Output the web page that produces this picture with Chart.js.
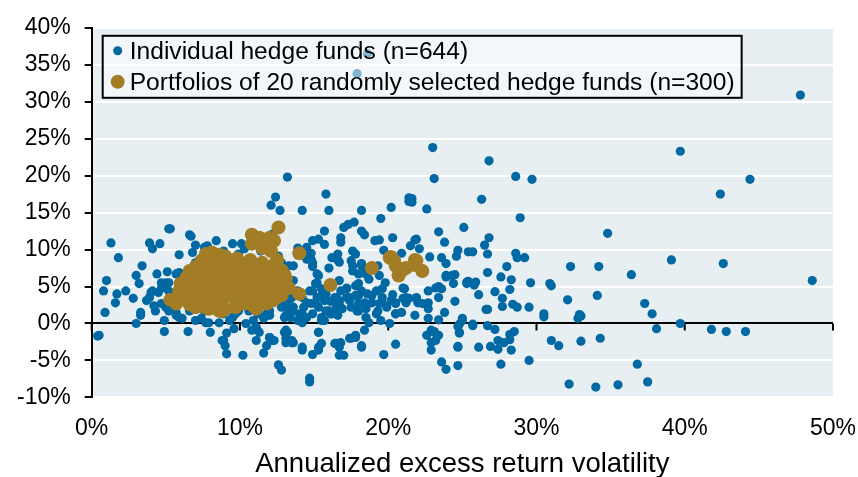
<!DOCTYPE html>
<html>
<head>
<meta charset="utf-8">
<title>Hedge fund volatility vs return</title>
<script src="https://cdn.jsdelivr.net/npm/chart.js@4.4.0/dist/chart.umd.min.js"></script>
<style>
  body { margin: 0; background: #fff; }
</style>
</head>
<body>
<canvas id="myChart" width="858" height="477"></canvas>
<script>
// axis setup
var xTicks = [0, 10, 20, 30, 40, 50];
var yMin = -10, yMax = 40, yStep = 5;
var xTitle = "Annualized excess return volatility";
var legendLabels = ["Individual hedge funds (n=644)", "Portfolios of 20 randomly selected hedge funds (n=300)"];

// [volatility %, excess return %]
var fundPoints = [
  [47.8,30.9],[48.6,5.8],[39.7,23.3],[44.4,19.5],[42.4,17.5],[23.0,23.8],[26.8,22.0],[28.6,19.9],[29.7,19.5],[23.1,19.6],
  [26.3,16.8],[28.9,14.3],[34.8,12.2],[23.4,12.4],[25.1,13.0],[26.8,11.6],[22.6,15.5],[17.9,33.8],[18.6,36.5],
  [21.6,16.9],[21.6,16.4],[21.8,11.3],[23.8,11.0],[21.5,10.5],[22.1,10.1],[26.5,10.6],[24.7,9.9],[25.4,9.7],[25.7,9.7],
  [26.7,9.4],[24.6,9.1],[23.6,8.9],[22.8,9.0],[23.9,8.1],[28.6,9.5],[28.7,8.9],[29.2,8.9],[39.1,8.6],[42.6,8.1],
  [32.3,7.7],[34.2,7.7],[36.4,6.6],[28.0,7.7],[26.7,6.9],[27.6,6.3],[23.9,6.5],[24.5,6.6],[24.4,5.4],[25.3,5.6],
  [25.9,5.6],[25.8,5.2],[28.3,5.9],[29.6,5.5],[30.9,5.4],[31.0,5.1],[23.4,5.0],[23.6,4.7],[22.7,4.4],[26.1,3.9],
  [27.2,4.3],[28.2,4.6],[27.7,3.4],[23.4,3.5],[32.1,3.2],[34.1,3.8],[37.3,2.7],[24.5,3.0],[26.7,1.9],[27.7,2.3],
  [28.4,2.6],[28.7,2.2],[29.5,2.2],[23.8,1.5],[37.8,1.3],[30.5,1.3],[30.5,0.9],[32.8,0.7],[33.0,1.0],[25.0,0.4],
  [39.7,0.0],[23.4,0.5],[23.1,-1.1],[23.4,-1.6],[24.7,-0.4],[24.8,-1.3],[25.7,-0.1],[26.7,-0.3],[27.2,-0.8],[28.2,-1.5],
  [28.5,-1.1],[38.1,-0.7],[41.8,-0.8],[42.8,-1.1],[44.1,-1.1],[31.0,-2.3],[31.5,-3.0],[33.0,-2.4],[34.3,-2.0],[22.9,-3.6],
  [24.7,-3.1],[26.1,-3.2],[27.4,-3.5],[27.4,-2.3],[27.8,-2.6],[28.2,-2.2],[28.3,-3.6],[29.5,-5.0],[23.6,-5.2],[23.9,-6.2],
  [24.7,-5.7],[27.6,-5.5],[36.8,-5.5],[32.2,-8.2],[34.0,-8.6],[35.5,-8.3],[37.5,-7.9],
  [21.9,3.4],[21.4,3.4],[22.3,2.7],[22.7,2.8],[22.7,2.0],[22.7,0.7],[21.8,1.1],[22.9,-2.6],[26.9,-3.1],[23.2,4.8],
  [23.9,6.3],[24.3,6.5],[25.4,5.7],[32.9,1.2],[26.6,1.9],
  [13.2,19.8],[12.4,17.1],[12.1,16.0],[12.7,15.3],[14.2,15.3],[15.8,17.5],[16.0,15.3],[18.2,15.3],[20.2,15.7],[21.4,17.0],
  [21.4,16.5],[19.5,14.2],[17.7,13.7],[17.3,13.4],[17.0,13.0],[15.7,12.5],[18.2,12.5],[18.4,12.0],[16.8,11.6],[16.8,11.0],
  [19.1,11.2],[19.4,11.3],[20.3,11.6],[15.3,11.4],[14.9,11.2],[15.7,10.7],[14.5,10.3],[13.9,10.2],[12.2,12.1],[19.7,9.9],
  [20.9,9.5],[16.6,9.4],[17.8,9.4],[14.8,9.5],[21.9,11.4],
  [16.0,7.5],[14.9,7.7],[15.3,6.5],[16.7,8.3],[17.6,7.1],[18.0,6.7],[18.5,6.9],[19.3,7.8],[21.1,4.7],[21.2,2.8],
  [20.5,1.3],[20.1,0.0],[19.3,1.7],[19.6,2.8],[18.9,3.8],[18.5,2.0],[17.8,5.1],[17.2,4.7],[17.4,3.1],[16.9,2.0],
  [16.6,1.1],[16.0,1.7],[16.1,1.3],[15.7,0.4],[15.1,2.7],[15.5,3.8],[14.9,4.4],[14.5,2.8],[14.2,1.3],[14.5,0.8],
  [13.9,0.4],[13.5,1.7],[13.1,1.1],[13.3,2.7],[12.8,2.2],[12.0,1.1],[11.6,0.7],[11.2,1.3],[10.9,0.4],[11.1,-0.5],
  [11.1,-2.3],[11.6,-4.0],[12.0,-1.9],[12.3,-2.3],[13.1,-0.9],[13.1,-2.0],[13.5,-2.6],[14.2,-3.6],[14.9,-4.2],[15.3,-3.6],
  [15.5,-2.7],[15.3,-1.2],[16.4,-2.7],[16.7,-4.3],[17.0,-4.3],[16.8,-2.6],[17.4,-2.0],[17.8,-1.6],[18.2,-3.0],[18.4,-0.9],
  [19.7,-4.2],[20.5,-2.8],[12.6,-5.6],[12.8,-6.3],[14.7,-7.4],[14.7,-7.9],[18.2,8.1],[17.5,8.5],[13.6,7.8],[14.8,8.7],
  [15.2,6.7],[15.8,4.0],[16.5,3.5],[16.7,2.8],[17.2,3.5],[18.0,3.8],[18.4,2.8],[19.6,4.7],[20.2,3.1],[20.5,2.7],
  [20.9,1.5],[14.2,0.1],[15.5,0.4],[15.2,5.5],[16.1,3.0],[12.8,8.2],
  [17.6,9.8],[16.2,8.9],[16.6,8.6],[14.7,9.4],[14.5,8.7],[14.9,8.2],[17.6,7.8],[18.2,7.8],[18.5,6.7],[18.7,6.0],
  [19.4,6.5],[19.8,5.5],[25.3,5.4],[24.8,-0.1],[25.0,0.7],[21.0,4.8],[21.0,3.4],[21.2,3.5],[21.9,3.5],[22.0,2.8],
  [20.3,3.9],[20.5,2.8],[19.6,3.5],[19.9,2.2],[19.2,4.4],[19.4,2.7],[18.6,4.0],[18.9,2.8],[18.0,5.4],[18.2,4.4],
  [17.8,3.8],[18.0,2.7],[17.9,1.7],[17.2,4.8],[17.4,3.5],[17.5,2.2],[16.7,5.8],[16.8,4.4],[16.7,3.1],[16.2,5.1],
  [16.4,3.5],[16.5,2.2],[16.2,1.3],[15.5,4.7],[15.7,3.1],[15.8,1.7],[15.1,5.4],[15.2,3.5],[15.3,2.2],[15.5,0.8],
  [14.7,4.4],[14.8,2.7],[14.9,1.3],[14.2,3.5],[14.3,2.2],[14.0,1.3],[13.5,3.5],[13.6,2.2],[13.4,0.8],[13.1,2.2],
  [13.0,0.8],[18.0,1.7],[18.5,0.8],[18.7,0.1],[19.2,1.3],[19.5,0.4],[20.5,1.3],[22.6,-1.6],[22.9,-0.9],[13.0,-1.2],
  [13.1,-2.6],[13.6,-2.6],[14.2,-3.2],[15.3,-1.2],[16.5,-2.7],[16.7,-3.2],[17.5,-2.0],[17.8,-1.9],[18.2,-3.2],[15.3,-3.2],
  [23.1,-1.2],[23.2,-2.3],[24.8,-1.2],[25.7,-0.3],[24.7,-3.2],
  [5.2,12.8],[1.3,10.9],[1.8,8.9],[3.9,10.9],[4.1,10.1],[4.6,10.8],[6.6,12.0],[7.0,10.6],[6.8,9.6],[5.9,9.3],
  [7.8,10.5],[9.5,10.8],[10.1,10.8],[9.9,9.4],[3.4,7.8],[3.0,6.5],[3.2,5.4],[1.0,5.8],[0.8,4.4],[1.7,4.0],
  [2.8,3.4],[4.4,6.7],[5.1,7.0],[5.7,6.7],[5.0,5.5],[4.1,4.4],[3.9,3.5],[4.7,4.8],[0.5,-1.6],[0.4,-1.7],
  [0.9,1.5],[3.0,0.0],[3.3,1.5],[3.3,1.1],[4.9,-1.1],[6.5,-1.1],[8.0,-1.2],[9.1,-4.1],[10.2,-4.3],[8.9,-2.3],
  [9.1,-1.3],[9.6,-0.7],[10.4,0.0],[4.9,0.4],[4.3,1.7],[4.2,2.4],[3.7,3.1],[5.7,1.5],[6.1,0.7],[6.6,1.7],
  [7.4,0.7],[7.9,0.1],[8.6,0.1],[9.3,0.4],[9.7,1.3],[5.0,2.2],[4.0,4.2],[4.7,2.7],[5.2,1.7],[5.7,1.1],
  [4.5,4.2],[5.0,4.8],[5.2,5.5],[4.7,5.5],[5.9,6.9],[12.6,4.4],[13.3,3.1],[11.8,1.3],[10.6,1.7],[9.5,0.8],
  [10.8,-0.9],[11.3,-1.2],[12.0,-1.9],[13.2,-1.2],[13.5,-2.3],[8.8,-2.3],[9.0,-3.0],[11.8,-3.0],[12.2,-2.3],[5.3,12.8],
  [6.7,11.8],[7.0,0.4],[7.7,0.1],[5.9,0.8],[2.3,4.4],[1.6,2.8],
  [12.6,9.1],[13.3,7.8],[13.6,5.8],[13.9,4.4],[13.0,3.1],[12.0,1.7],[10.9,2.4],[9.9,1.7],[8.9,1.3],[7.6,1.7],
  [6.6,2.4],[5.5,3.1],[5.2,4.4],[6.0,5.8],[7.0,8.2],[8.0,9.1],[8.9,9.8],[10.3,10.1],[11.4,9.8],[9.3,8.7],
  [8.4,11.2],[7.6,10.3]
];

var portfolioPoints = [
  [10.8,12.0],[11.1,11.4],[11.3,11.6],[11.7,10.9],[12.0,11.6],[12.3,11.2],[12.6,13.0],[11.5,10.2],[12.1,9.8],[10.8,10.8],
  [11.8,10.9],[14.0,9.5],[14.0,4.0],[16.1,5.2],[18.9,7.5],[20.1,8.9],[20.4,8.5],[20.7,6.5],[21.2,7.5],[21.9,8.5],
  [22.3,7.1],[20.9,7.1],[21.8,7.9],[21.8,8.6],[20.2,9.0],[20.5,7.8],
  [7.7,9.4],[8.1,9.6],[8.6,9.3],[9.0,9.1],
  [7.4,8.5],[8.0,8.7],[8.6,8.7],[9.3,8.5],[10.1,8.1],[10.7,8.6],[11.5,8.2],[12.2,7.8],[12.5,8.6],[9.8,8.8],
  [6.6,7.1],[7.0,7.6],[7.6,7.8],[8.2,7.5],[8.8,7.3],[9.4,7.7],[10.0,7.4],[10.4,7.1],[11.0,7.6],[11.6,7.3],[12.3,7.0],[12.8,7.2],[13.0,6.6],
  [6.4,6.2],[6.9,6.5],[7.5,6.7],[8.1,6.4],[8.7,6.6],[9.5,6.2],[10.0,6.5],[10.6,6.3],[11.2,6.6],[11.9,6.2],[12.5,6.4],[13.1,6.1],
  [6.0,5.4],[6.6,5.6],[7.2,5.3],[7.8,5.7],[8.4,5.4],[9.0,5.6],[9.6,5.3],[10.2,5.7],[10.8,5.4],[11.4,5.6],[12.0,5.3],[12.6,5.5],[13.0,5.4],
  [5.9,4.4],[6.5,4.6],[7.1,4.3],[7.7,4.7],[8.3,4.4],[8.9,4.6],[9.5,4.3],[10.1,4.7],[10.7,4.4],[11.3,4.6],[11.9,4.3],[12.5,4.5],[13.3,4.8],
  [5.3,3.2],[6.0,3.6],[6.4,3.4],[7.0,3.7],[7.6,3.3],[8.2,3.6],[8.8,3.4],[9.4,3.7],[10.0,3.3],[10.6,3.5],[11.2,3.4],[11.8,3.6],[12.4,3.4],[12.8,3.8],
  [5.7,2.7],[6.6,2.6],[7.0,2.2],[7.7,2.2],[8.3,2.6],[8.6,1.7],[9.0,2.0],[9.7,2.2],[10.3,2.7],[10.9,2.4],[11.1,2.0],[11.8,2.7],[12.2,3.1],
  [8.8,1.7],[7.9,2.0]
];

var blue = '#0068a2';
var gold = '#a27d25';
var plotBgColor = '#e7eff3';
var fontName = '"Liberation Sans", Arial, sans-serif';

function toXY(list){
  return list.map(function(p){ return {x: p[0], y: p[1]}; });
}

// background, x ticks on the zero line, legend box
var extras = {
  id: 'extras',
  beforeDraw: function(chart){
    var a = chart.chartArea, c = chart.ctx;
    c.save();
    c.fillStyle = plotBgColor;
    c.fillRect(a.left, a.top, a.right - a.left, a.bottom - a.top);
    c.restore();
  },
  beforeDatasetsDraw: function(chart){
    var xs = chart.scales.x, ys = chart.scales.y, c = chart.ctx;
    var y0 = ys.getPixelForValue(0);
    c.save();
    c.strokeStyle = '#000';
    c.lineWidth = 2;
    xTicks.forEach(function(t){
      var px = xs.getPixelForValue(t);
      c.beginPath();
      c.moveTo(px, y0);
      c.lineTo(px, y0 + 7);
      c.stroke();
    });
    c.restore();
  },
  afterDraw: function(chart){
    var a = chart.chartArea, c = chart.ctx;
    c.save();
    c.font = '24.6px ' + fontName;
    var w = Math.max(c.measureText(legendLabels[0]).width, c.measureText(legendLabels[1]).width);
    var bx = a.left + 11, by = a.top + 8, bw = w + 34, bh = 62;
    c.fillStyle = 'rgba(255,255,255,0.5)';
    c.fillRect(bx, by, bw, bh);
    c.strokeStyle = '#000';
    c.lineWidth = 2;
    c.strokeRect(bx, by, bw, bh);
    c.fillStyle = blue;
    c.beginPath(); c.arc(bx + 15, by + 15, 4.5, 0, Math.PI * 2); c.fill();
    c.fillStyle = gold;
    c.beginPath(); c.arc(bx + 15, by + 46, 7, 0, Math.PI * 2); c.fill();
    c.fillStyle = '#000';
    c.textBaseline = 'middle';
    c.fillText(legendLabels[0], bx + 27, by + 16);
    c.fillText(legendLabels[1], bx + 27, by + 47);
    c.restore();
  }
};

var ctx = document.getElementById('myChart').getContext('2d');
var chart = new Chart(ctx, {
  type: 'scatter',
  data: {
    datasets: [{
      label: legendLabels[0],
      data: toXY(fundPoints),
      backgroundColor: blue,
      borderColor: blue,
      pointRadius: 4.6,
      pointBorderWidth: 0,
      order: 1
    }, {
      label: legendLabels[1],
      data: toXY(portfolioPoints),
      backgroundColor: gold,
      borderColor: gold,
      pointRadius: 7,
      pointBorderWidth: 0,
      order: 0
    }]
  },
  options: {
    responsive: false,
    animation: false,
    events: [],
    layout: { padding: { left: 3, top: 25, right: 25, bottom: -8 } },
    plugins: {
      legend: { display: false },
      tooltip: { enabled: false }
    },
    scales: {
      x: {
        type: 'linear',
        min: 0, max: 50,
        afterBuildTicks: function(scale){
          scale.ticks = xTicks.map(function(v){ return {value: v}; });
        },
        afterFit: function(scale){
          // the last label may hang into the right padding
          scale.paddingLeft = 0;
          scale.paddingRight = 0;
        },
        ticks: {
          padding: 17,
          color: '#000',
          font: { family: fontName, size: 23 },
          callback: function(v){ return v + '%'; }
        },
        grid: { display: false, drawTicks: false },
        border: { display: false },
        title: {
          display: true,
          text: xTitle,
          color: '#000',
          font: { family: fontName, size: 27.5 },
          padding: { top: -11, bottom: 4 }
        }
      },
      y: {
        min: yMin, max: yMax,
        ticks: {
          stepSize: yStep,
          padding: 14,
          color: '#000',
          font: { family: fontName, size: 23 },
          callback: function(v){ return v + '%'; }
        },
        grid: {
          color: function(c){ return c.tick && c.tick.value === 0 ? '#000' : '#ffffff'; },
          lineWidth: 2,
          tickColor: '#000',
          tickLength: 7,
          tickWidth: 2
        },
        border: { display: true, color: '#000', width: 2 }
      }
    }
  },
  plugins: [extras]
});
</script>
</body>
</html>
